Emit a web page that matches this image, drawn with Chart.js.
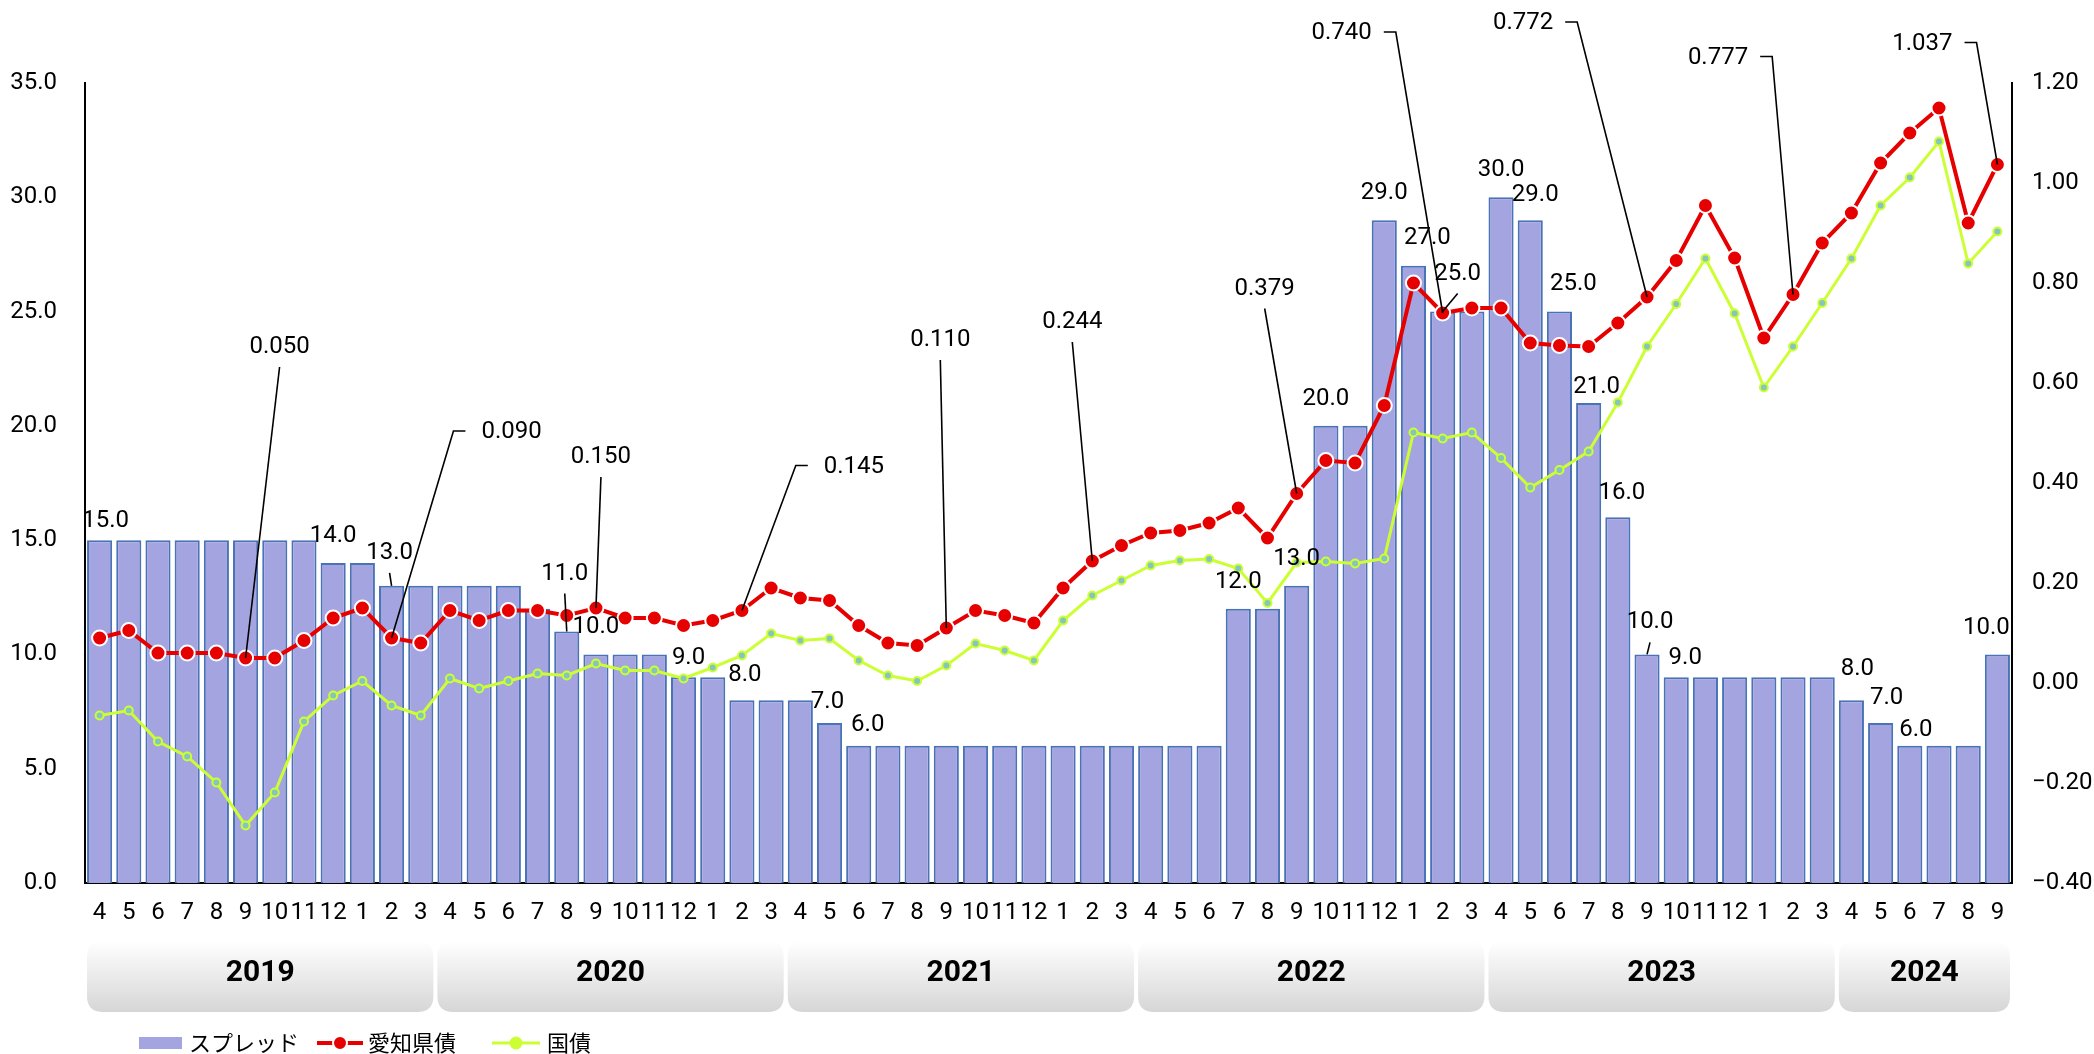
<!DOCTYPE html>
<html lang="ja">
<head>
<meta charset="utf-8">
<title>スプレッド・愛知県債・国債</title>
<script src="https://cdn.jsdelivr.net/npm/chart.js@4.4.1/dist/chart.umd.min.js"></script>
<style>
  html, body { margin: 0; padding: 0; background: #fff; }
  #wrap { width: 2094px; height: 1054px; position: relative; }
</style>
</head>
<body>
<div id="wrap"><canvas id="chart"></canvas></div>
<script>
// month labels, Apr 2019 .. Sep 2024
const months = [
  "4", "5", "6", "7", "8", "9", "10", "11", "12", "1", "2", "3",
  "4", "5", "6", "7", "8", "9", "10", "11", "12", "1", "2", "3",
  "4", "5", "6", "7", "8", "9", "10", "11", "12", "1", "2", "3",
  "4", "5", "6", "7", "8", "9", "10", "11", "12", "1", "2", "3",
  "4", "5", "6", "7", "8", "9", "10", "11", "12", "1", "2", "3",
  "4", "5", "6", "7", "8", "9",
];

// fiscal year groups under the month axis
const fiscalYears = ["2019", "2020", "2021", "2022", "2023", "2024"];
const fiscalYearStart = [0, 12, 24, 36, 48, 60];

// スプレッド (bp)
const spread = [
  15, 15, 15, 15, 15, 15, 15, 15, 14, 14, 13, 13,
  13, 13, 13, 12, 11, 10, 10, 10, 9, 9, 8, 8,
  8, 7, 6, 6, 6, 6, 6, 6, 6, 6, 6, 6,
  6, 6, 6, 12, 12, 13, 20, 20, 29, 27, 25, 25,
  30, 29, 25, 21, 16, 10, 9, 9, 9, 9, 9, 9,
  8, 7, 6, 6, 6, 10,
];

// 愛知県債 (%)
const aichiBond = [
  0.090, 0.105, 0.060, 0.060, 0.060, 0.050, 0.050, 0.085, 0.130, 0.150, 0.090, 0.080,
  0.145, 0.125, 0.145, 0.145, 0.135, 0.150, 0.130, 0.130, 0.115, 0.125, 0.145, 0.190,
  0.170, 0.165, 0.115, 0.080, 0.075, 0.110, 0.145, 0.135, 0.120, 0.190, 0.244, 0.275,
  0.300, 0.305, 0.320, 0.350, 0.290, 0.379, 0.445, 0.440, 0.555, 0.800, 0.740, 0.750,
  0.750, 0.680, 0.675, 0.673, 0.720, 0.772, 0.845, 0.955, 0.850, 0.690, 0.777, 0.880,
  0.940, 1.040, 1.100, 1.150, 0.920, 1.037,
];

// 国債 (%)
const jgb = [
  -0.065, -0.055, -0.117, -0.147, -0.199, -0.285, -0.219, -0.077, -0.025, 0.004, -0.045, -0.065,
  0.009, -0.011, 0.004, 0.019, 0.015, 0.039, 0.025, 0.025, 0.009, 0.031, 0.055, 0.099,
  0.085, 0.089, 0.045, 0.015, 0.004, 0.035, 0.079, 0.065, 0.045, 0.125, 0.175, 0.205,
  0.235, 0.245, 0.248, 0.229, 0.160, 0.241, 0.243, 0.239, 0.249, 0.501, 0.489, 0.501,
  0.450, 0.391, 0.426, 0.463, 0.561, 0.673, 0.758, 0.849, 0.739, 0.591, 0.673, 0.760,
  0.849, 0.955, 1.011, 1.083, 0.839, 0.903,
];

// which bars / points carry a value label
const spreadLabelIdx = [0, 8, 10, 16, 17, 20, 22, 25, 26, 39, 41, 42, 44, 45, 46, 48, 49, 50, 51, 52, 53, 54, 60, 61, 62, 65];
const aichiCalloutIdx = [5, 10, 17, 22, 29, 34, 41, 46, 53, 58, 65];

const NUM_FONT = "Roboto, 'Liberation Sans', sans-serif";
const JP_FONT = "'Noto Sans CJK JP', 'Noto Sans', sans-serif";

const RED = "#e60000";
const LIME = "#ccff33";
const BAR_FILL = "#a4a4e0";
const BAR_EDGE = "#4a72b6";

// label placement relative to the bar top (px)
const barLabelStyle = {
  0: { dx: 6, dy: -19 },
  10: { dx: -2, dy: -33, leader: true },
  16: { dx: -2, dy: -58, leader: true },
  20: { dx: 5, dy: -19 },
  22: { dx: 3, dy: -25 },
  25: { dx: -2, dy: -21 },
  26: { dx: 9, dy: -21 },
  45: { dx: 14, dy: -28 },
  46: { dx: 15, dy: -38, leader: true },
  49: { dx: 5, dy: -25 },
  50: { dx: 14, dy: -28 },
  51: { dx: 8, dy: -16 },
  52: { dx: 4, dy: -24 },
  53: { dx: 3, dy: -32, leader: true },
  54: { dx: 9, dy: -19 },
  60: { dx: 6, dy: -31 },
  61: { dx: 6, dy: -25 },
  62: { dx: 6, dy: -16 },
  65: { dx: -11, dy: -26 },
};

// callout placement relative to the red point (px)
const calloutStyle = {
  5: { dx: 34, dy: -311, kind: "down" },
  10: { dx: 120, dy: -206, kind: "left" },
  17: { dx: 5, dy: -151, kind: "down" },
  22: { dx: 112, dy: -144, kind: "left" },
  29: { dx: -6, dy: -288, kind: "down" },
  34: { dx: -20, dy: -239, kind: "down" },
  41: { dx: -32, dy: -205, kind: "down" },
  46: { dx: -101, dy: -280, kind: "right" },
  53: { dx: -124, dy: -274, kind: "right" },
  58: { dx: -75, dy: -237, kind: "right" },
  65: { dx: -75, dy: -121, kind: "right" },
};

function drawLine(ctx, pts) {
  ctx.beginPath();
  ctx.moveTo(pts[0][0], pts[0][1]);
  for (let k = 1; k < pts.length; k++) ctx.lineTo(pts[k][0], pts[k][1]);
  ctx.stroke();
}

function roundRect(ctx, x, y, w, h, r) {
  ctx.beginPath();
  ctx.moveTo(x + r, y);
  ctx.lineTo(x + w - r, y);
  ctx.quadraticCurveTo(x + w, y, x + w, y + r);
  ctx.lineTo(x + w, y + h - r);
  ctx.quadraticCurveTo(x + w, y + h, x + w - r, y + h);
  ctx.lineTo(x + r, y + h);
  ctx.quadraticCurveTo(x, y + h, x, y + h - r);
  ctx.lineTo(x, y + r);
  ctx.quadraticCurveTo(x, y, x + r, y);
  ctx.closePath();
}

const labelsPlugin = {
  id: "labels",
  afterDatasetsDraw(chart) {
    const { ctx } = chart;
    const barMeta = chart.getDatasetMeta(2);
    const redMeta = chart.getDatasetMeta(0);
    ctx.save();
    ctx.font = `24px ${NUM_FONT}`;
    ctx.fillStyle = "#000";
    ctx.strokeStyle = "#000";
    ctx.lineWidth = 1.6;
    ctx.textAlign = "center";
    ctx.textBaseline = "middle";

    spreadLabelIdx.forEach((i) => {
      const bar = barMeta.data[i];
      const s = barLabelStyle[i] || {};
      const tx = bar.x + (s.dx ?? 0);
      const ty = bar.y + (s.dy ?? -27);
      ctx.fillText(spread[i].toFixed(1), tx, ty);
      if (s.leader) drawLine(ctx, [[tx, ty + 20], [bar.x, bar.y]]);
    });

    aichiCalloutIdx.forEach((i) => {
      const pt = redMeta.data[i];
      const s = calloutStyle[i];
      const text = aichiBond[i].toFixed(3);
      const tx = pt.x + s.dx;
      const ty = pt.y + s.dy;
      const w = ctx.measureText(text).width;
      ctx.fillText(text, tx, ty);
      if (s.kind === "down") {
        drawLine(ctx, [[tx, ty + 20], [pt.x, pt.y]]);
      } else if (s.kind === "left") {
        const x0 = tx - w / 2 - 16;
        drawLine(ctx, [[x0, ty - 1], [x0 - 12, ty - 1], [pt.x, pt.y]]);
      } else {
        const x0 = tx + w / 2 + 12;
        drawLine(ctx, [[x0, ty - 1], [x0 + 12, ty - 1], [pt.x, pt.y]]);
      }
    });
    ctx.restore();
  },
  afterDraw(chart) {
    const { ctx, chartArea } = chart;
    const xs = chart.scales.x;
    const step = xs.getPixelForValue(1) - xs.getPixelForValue(0);
    ctx.save();

    // fiscal year boxes
    const top = chartArea.bottom + 58;
    const h = 71;
    fiscalYears.forEach((yr, k) => {
      const start = fiscalYearStart[k];
      const end = k + 1 < fiscalYearStart.length ? fiscalYearStart[k + 1] - 1 : months.length - 1;
      const x0 = xs.getPixelForValue(start) - step / 2 + 2;
      const x1 = xs.getPixelForValue(end) + step / 2 - 2;
      const grad = ctx.createLinearGradient(0, top, 0, top + h);
      grad.addColorStop(0, "#ffffff");
      grad.addColorStop(1, "#d6d6d6");
      ctx.fillStyle = grad;
      roundRect(ctx, x0, top, x1 - x0, h, 16);
      ctx.fill();
      ctx.fillStyle = "#000";
      ctx.font = `bold 30px ${NUM_FONT}`;
      ctx.textAlign = "center";
      ctx.textBaseline = "middle";
      ctx.fillText(yr, (x0 + x1) / 2, top + h / 2 - 3);
    });

    // legend
    const ds = chart.data.datasets;
    const ly = chartArea.bottom + 160;
    ctx.font = `22px ${JP_FONT}`;
    ctx.textAlign = "left";
    ctx.textBaseline = "middle";

    ctx.fillStyle = BAR_FILL;
    ctx.fillRect(139, ly - 6, 43, 12);
    ctx.fillStyle = "#000";
    ctx.fillText(ds[2].label, 189, ly);

    ctx.strokeStyle = RED;
    ctx.lineWidth = 4;
    drawLine(ctx, [[317, ly], [363, ly]]);
    ctx.beginPath();
    ctx.arc(340, ly, 7, 0, Math.PI * 2);
    ctx.fillStyle = RED;
    ctx.fill();
    ctx.lineWidth = 2;
    ctx.strokeStyle = "#fff";
    ctx.stroke();
    ctx.fillStyle = "#000";
    ctx.fillText(ds[0].label, 368, ly);

    ctx.strokeStyle = LIME;
    ctx.lineWidth = 3;
    drawLine(ctx, [[492, ly], [540, ly]]);
    ctx.beginPath();
    ctx.arc(516, ly, 6.5, 0, Math.PI * 2);
    ctx.fillStyle = LIME;
    ctx.fill();
    ctx.fillStyle = "#000";
    ctx.fillText(ds[1].label, 547, ly);

    ctx.restore();
  },
};

const ctx = document.getElementById("chart").getContext("2d");
new Chart(ctx, {
  data: {
    labels: months,
    datasets: [
      {
        type: "line",
        label: "愛知県債",
        data: aichiBond,
        yAxisID: "y1",
        borderColor: RED,
        borderWidth: 4,
        pointRadius: 7.5,
        pointBackgroundColor: RED,
        pointBorderColor: "#ffffff",
        pointBorderWidth: 2,
        tension: 0,
        order: 0,
      },
      {
        type: "line",
        label: "国債",
        data: jgb,
        yAxisID: "y1",
        borderColor: LIME,
        borderWidth: 3,
        pointRadius: 4,
        pointBackgroundColor: "#84c6bc",
        pointBorderColor: LIME,
        pointBorderWidth: 2,
        tension: 0,
        order: 1,
      },
      {
        type: "bar",
        label: "スプレッド",
        data: spread,
        yAxisID: "y",
        backgroundColor: BAR_FILL,
        borderColor: BAR_EDGE,
        borderWidth: 2,
        barPercentage: 0.86,
        categoryPercentage: 1,
        order: 2,
      },
    ],
  },
  options: {
    responsive: true,
    maintainAspectRatio: false,
    animation: false,
    layout: { padding: { top: 83, left: 0, right: 0, bottom: 0 } },
    plugins: { legend: { display: false }, tooltip: { enabled: false } },
    scales: {
      x: {
        grid: { display: false, drawTicks: false },
        border: { display: true, color: "#000", width: 2 },
        ticks: {
          autoSkip: false,
          maxRotation: 0,
          minRotation: 0,
          padding: 16,
          color: "#000",
          font: { family: NUM_FONT, size: 24 },
        },
        afterFit: (scale) => { scale.height = 171; },
      },
      y: {
        position: "left",
        min: 0,
        max: 35,
        grid: { display: false, drawTicks: false },
        border: { display: true, color: "#000", width: 2 },
        ticks: {
          stepSize: 5,
          padding: 28,
          color: "#000",
          font: { family: NUM_FONT, size: 24 },
          callback: (v) => Number(v).toFixed(1),
        },
        afterFit: (scale) => { scale.width = 85; },
      },
      y1: {
        position: "right",
        min: -0.4,
        max: 1.2,
        grid: { display: false, drawTicks: false },
        border: { display: true, color: "#000", width: 2 },
        ticks: {
          stepSize: 0.2,
          padding: 20,
          color: "#000",
          font: { family: NUM_FONT, size: 24 },
          callback: (v) => (v < -1e-9 ? "\u2212" : "") + Math.abs(v).toFixed(2),
        },
        afterFit: (scale) => { scale.width = 82; },
      },
    },
  },
  plugins: [labelsPlugin],
});
</script>
</body>
</html>
